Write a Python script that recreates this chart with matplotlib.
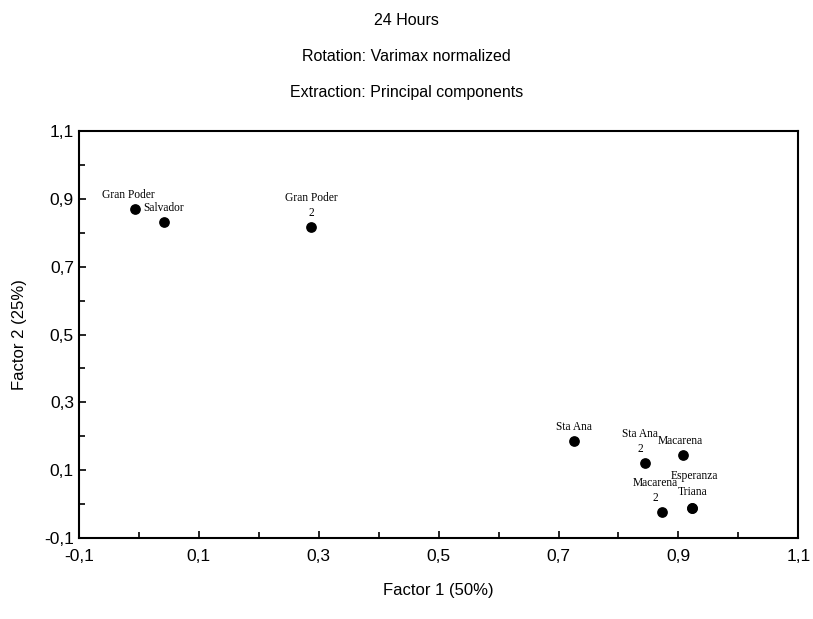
import matplotlib
matplotlib.use("Agg")
import matplotlib.pyplot as plt
from matplotlib.ticker import MultipleLocator, FuncFormatter

# factor loadings
names = ["Gran Poder", "Salvador", "Gran Poder\n2", "Sta Ana", "Sta Ana\n2",
         "Macarena", "Macarena\n2", "Triana", "Esperanza"]
factor1 = [-0.006, 0.042, 0.287, 0.725, 0.845, 0.908, 0.873, 0.922, 0.922]
factor2 = [0.870, 0.832, 0.817, 0.186, 0.121, 0.144, -0.024, -0.012, -0.012]
# label offsets in points (dx, dy)
offsets = [(-5, 6), (0, 6), (0, 6), (0, 6), (-4, 6), (-2, 6), (-5, 6), (1, 7), (2, 19)]

plt.rcParams['font.family'] = ['Liberation Sans', 'DejaVu Sans']

fig = plt.figure(figsize=(8.13, 6.19), dpi=100)
ax = fig.add_axes([0.097, 0.131, 0.885, 0.657])

ax.scatter(factor1, factor2, s=45, color="black", zorder=3)
for n, x, y, (dx, dy) in zip(names, factor1, factor2, offsets):
    ax.annotate(n, (x, y), xytext=(dx, dy), textcoords="offset points",
                ha="center", va="bottom", fontsize=8.3, family="Liberation Serif",
                linespacing=1.3)

ax.set_xlim(-0.1, 1.1)
ax.set_ylim(-0.1, 1.1)
ax.xaxis.set_minor_locator(MultipleLocator(0.1))
ax.yaxis.set_minor_locator(MultipleLocator(0.1))
ax.set_xticks([-0.1, 0.1, 0.3, 0.5, 0.7, 0.9, 1.1])
ax.set_yticks([-0.1, 0.1, 0.3, 0.5, 0.7, 0.9, 1.1])
fmt = FuncFormatter(lambda v, p: ("%.1f" % v).replace(".", ","))
ax.xaxis.set_major_formatter(fmt)
ax.yaxis.set_major_formatter(fmt)
ax.tick_params(which="both", direction="in", labelsize=12.5, width=1.2)
ax.tick_params(which="major", length=5)
ax.tick_params(which="minor", length=4)
ax.tick_params(axis="x", pad=8)
for s in ax.spines.values():
    s.set_linewidth(1.5)

ax.set_xlabel("Factor 1 (50%)", fontsize=12, labelpad=14)
ax.set_ylabel("Factor 2 (25%)", fontsize=12, labelpad=12)

fig.text(0.5, 0.967, "24 Hours", ha="center", va="center", fontsize=11.5)
fig.text(0.5, 0.909, "Rotation: Varimax normalized", ha="center", va="center", fontsize=11.5)
fig.text(0.5, 0.851, "Extraction: Principal components", ha="center", va="center", fontsize=11.5)

fig.savefig("out.png", dpi=100)
